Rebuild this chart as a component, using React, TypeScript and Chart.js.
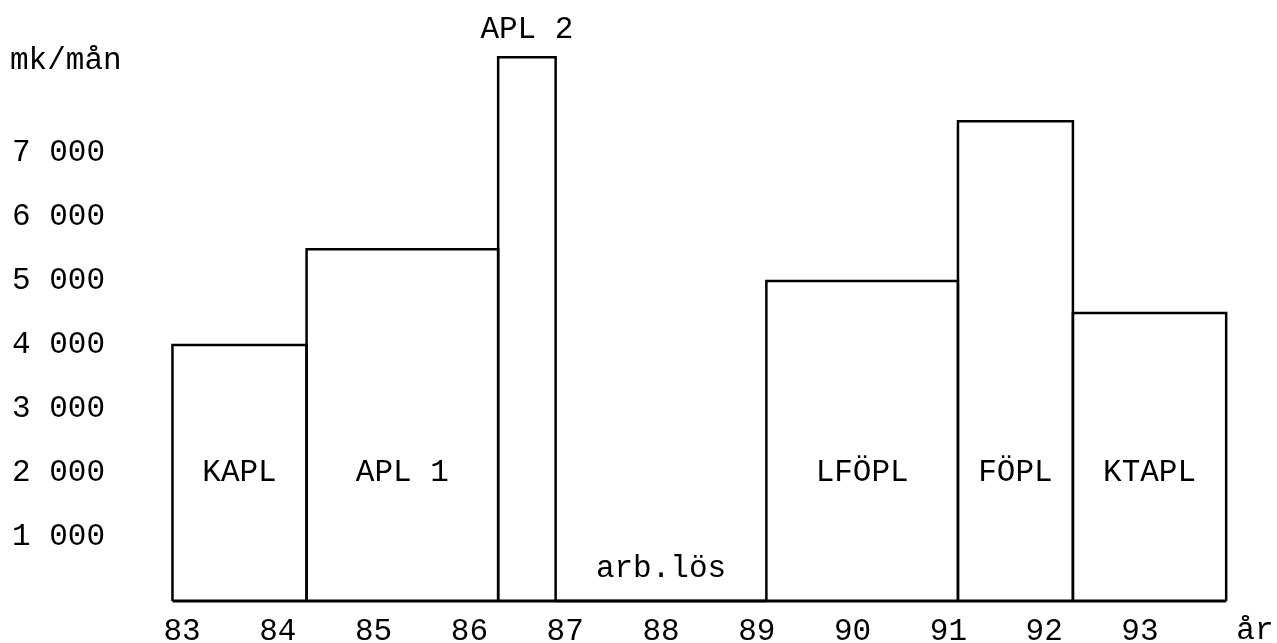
import React, { useEffect, useRef } from 'react';
import { Chart, registerables } from 'chart.js';

Chart.register(...registerables);

// ---- data ----
const yearTicks = [83, 84, 85, 86, 87, 88, 89, 90, 91, 92, 93];
const yTicks = [1000, 2000, 3000, 4000, 5000, 6000, 7000];
const programs = ['KAPL', 'APL 1', 'APL 2', 'arb.lös', 'LFÖPL', 'FÖPL', 'KTAPL'];
const periodStart = [82.9, 84.3, 86.3, 86.9, 89.1, 91.1, 92.3];
const periodEnd = [84.3, 86.3, 86.9, 89.1, 91.1, 92.3, 93.9];
const pension = [4000, 5500, 8500, 0, 5000, 7500, 4500];
const unitLabel = 'mk/mån';
const yearLabel = 'år';
const yearLabelAt = 94.2;

const FONT = '"Liberation Mono", "Courier New", monospace';
const FONT_SIZE = 31;

const fmt = (v: number) => {
  const s = String(Math.round(v));
  return s.length > 3 ? s.slice(0, s.length - 3) + ' ' + s.slice(-3) : s;
};

const textPlugin = {
  id: 'barTexts',
  afterDraw(chart: any) {
    const { ctx, scales } = chart;
    const xs = scales.x;
    const ys = scales.y;
    ctx.save();
    ctx.fillStyle = '#000';
    ctx.font = `${FONT_SIZE}px ${FONT}`;
    ctx.textBaseline = 'middle';
    programs.forEach((name, i) => {
      const x0 = xs.getPixelForValue(periodStart[i]);
      const x1 = xs.getPixelForValue(periodEnd[i]);
      const cx = (x0 + x1) / 2;
      const w = ctx.measureText(name).width;
      ctx.textAlign = 'center';
      if (pension[i] === 0) {
        ctx.fillText(name, cx, ys.getPixelForValue(500));
      } else if (w > x1 - x0) {
        ctx.fillText(name, cx, ys.getPixelForValue(pension[i]) - 27);
      } else {
        ctx.fillText(name, cx, ys.getPixelForValue(2000));
      }
    });
    ctx.textAlign = 'left';
    ctx.fillText(unitLabel, ys.left - 2, ys.getPixelForValue(8450));
    ctx.textAlign = 'center';
    ctx.fillText(yearLabel, xs.getPixelForValue(yearLabelAt), xs.top + 30);
    ctx.restore();
  },
};

export default function App() {
  const ref = useRef<HTMLCanvasElement | null>(null);

  useEffect(() => {
    if (!ref.current) return;
    const datasets: any[] = programs.map((name, i) => ({
      label: name,
      data: [
        { x: periodStart[i], y: 0 },
        { x: periodStart[i], y: pension[i] },
        { x: periodEnd[i], y: pension[i] },
        { x: periodEnd[i], y: 0 },
      ],
      showLine: true,
      borderColor: '#000',
      borderWidth: 2.5,
      pointRadius: 0,
      fill: false,
      tension: 0,
      clip: false,
    }));
    datasets.push({
      label: 'baseline',
      data: [
        { x: periodStart[0], y: 0 },
        { x: periodEnd[periodEnd.length - 1], y: 0 },
      ],
      showLine: true,
      borderColor: '#000',
      borderWidth: 3,
      pointRadius: 0,
      fill: false,
      clip: false,
    });

    const chart = new Chart(ref.current, {
      type: 'scatter',
      data: { datasets },
      plugins: [textPlugin],
      options: {
        animation: false,
        responsive: true,
        maintainAspectRatio: false,
        layout: { padding: { left: 12, right: 12.5, top: 38, bottom: 0 } },
        plugins: { legend: { display: false }, tooltip: { enabled: false } },
        scales: {
          x: {
            type: 'linear',
            min: 82.7,
            max: 94.3,
            grid: { display: false, drawTicks: false },
            border: { display: false },
            afterFit: (s: any) => {
              s.height = 42;
            },
            afterBuildTicks: (s: any) => {
              s.ticks = yearTicks.map((v) => ({ value: v }));
            },
            ticks: {
              autoSkip: false,
              maxRotation: 0,
              padding: 12,
              color: '#000',
              font: { family: FONT, size: FONT_SIZE },
              callback: (v: any) => String(v),
            },
          },
          y: {
            type: 'linear',
            min: 0,
            max: 8800,
            grid: { display: false, drawTicks: false },
            border: { display: false },
            afterFit: (s: any) => {
              s.width = 141.3;
            },
            afterBuildTicks: (s: any) => {
              s.ticks = yTicks.map((v) => ({ value: v }));
            },
            ticks: {
              crossAlign: 'far',
              padding: 0,
              color: '#000',
              font: { family: FONT, size: FONT_SIZE },
              callback: (v: any) => fmt(Number(v)),
            },
          },
        },
      } as any,
    });
    return () => chart.destroy();
  }, []);

  return (
    <div style={{ position: 'fixed', left: 0, top: 0, width: 1277, height: 643, background: '#fff' }}>
      <canvas ref={ref} />
    </div>
  );
}
